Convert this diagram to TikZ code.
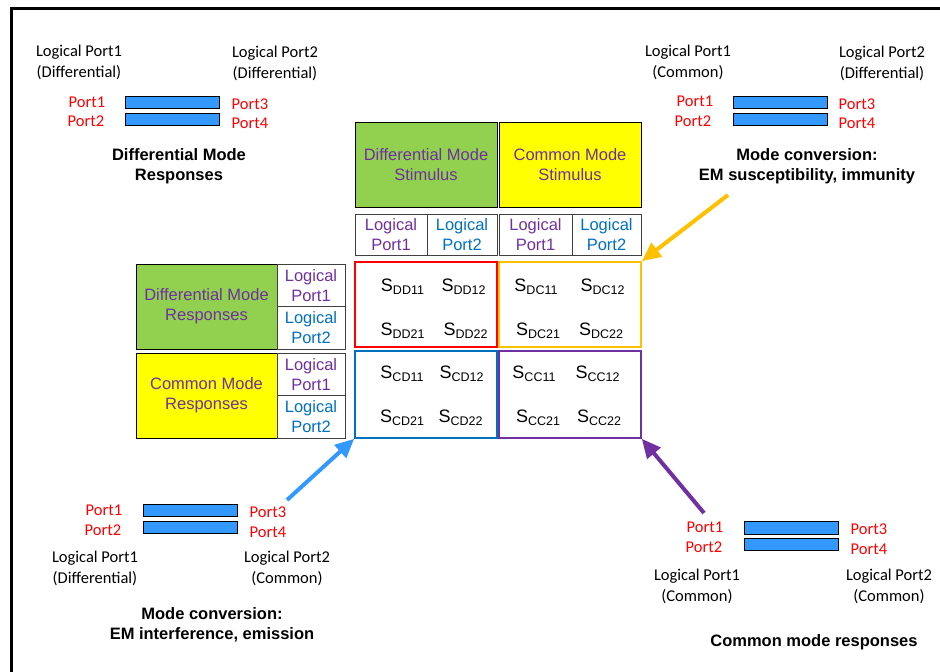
\documentclass[tikz,border=0pt]{standalone}
\usepackage{fontspec}
\setmainfont{Liberation Sans}
\newfontfamily\calfont{Carlito}
\usetikzlibrary{arrows.meta}

\definecolor{portred}{RGB}{255,0,0}
\definecolor{barblue}{RGB}{51,153,255}
\definecolor{modegreen}{RGB}{146,208,80}
\definecolor{modeyellow}{RGB}{255,255,0}
\definecolor{txtpurple}{RGB}{112,48,160}
\definecolor{txtblue}{RGB}{0,112,192}
\definecolor{boxorange}{RGB}{255,192,0}
\definecolor{cellgray}{RGB}{64,64,64}

\newcommand{\spar}[1]{{\fontsize{18}{18}\selectfont S}\raisebox{-3pt}{\fontsize{12.5}{12.5}\selectfont #1}}

\tikzset{
  calib/.style={font=\calfont\fontsize{16.5}{21}\selectfont, align=center, inner sep=0pt},
  portlbl/.style={calib, text=portred},
  heading/.style={font=\bfseries\fontsize{16.5}{20}\selectfont, align=center, inner sep=0pt},
  bar/.style={draw=black, fill=barblue, line width=0.8pt, minimum width=94pt, minimum height=12.5pt, inner sep=0pt},
  modebox/.style={draw=black, line width=1pt, minimum width=142pt, minimum height=85pt, inner sep=0pt,
    align=center, text=txtpurple, font=\fontsize{16.5}{20}\selectfont},
  cell/.style={draw=cellgray, line width=1pt, inner sep=0pt, align=center, font=\fontsize{16.5}{20}\selectfont},
  sbox/.style={line width=1.6pt, minimum width=142pt, inner sep=0pt},
  slabel/.style={anchor=base, inner sep=0pt},
  pointer/.style={line width=4pt, -{Triangle[length=19pt,width=17pt]}}
}

\begin{document}
\begin{tikzpicture}[x=1pt,y=-1pt]
\useasboundingbox (0,0) rectangle (940,672);

% cropped outer frame
\draw[line width=3pt] (11.5,672) -- (11.5,8.5) -- (940,8.5);

% ---------- stimulus headers ----------
\node[modebox, fill=modegreen] (stimD) at (426,164.5) {Differential Mode\\Stimulus};
\node[modebox, fill=modeyellow] (stimC) at (570,164.5) {Common Mode\\Stimulus};

\node[cell, minimum width=72pt, minimum height=41pt, text=txtpurple] (hD1) at (391,234.5) {Logical\\Port1};
\node[cell, minimum width=70pt, minimum height=41pt, text=txtblue]   (hD2) at (462,234.5) {Logical\\Port2};
\node[cell, minimum width=73pt, minimum height=41pt, text=txtpurple] (hC1) at (535.5,234.5) {Logical\\Port1};
\node[cell, minimum width=69pt, minimum height=41pt, text=txtblue]   (hC2) at (606.5,234.5) {Logical\\Port2};

% ---------- response headers ----------
\node[modebox, fill=modegreen, minimum width=141pt] (respD) at (206.5,306.5) {Differential Mode\\Responses};
\node[modebox, fill=modeyellow, minimum width=141pt] (respC) at (206.5,395.5) {Common Mode\\Responses};

\node[cell, minimum width=68pt, minimum height=42.5pt, text=txtpurple] (lD1) at (311,285.25) {Logical\\Port1};
\node[cell, minimum width=68pt, minimum height=42.5pt, text=txtblue]   (lD2) at (311,327.75) {Logical\\Port2};
\node[cell, minimum width=68pt, minimum height=42.5pt, text=txtpurple] (lC1) at (311,374.25) {Logical\\Port1};
\node[cell, minimum width=68pt, minimum height=42.5pt, text=txtblue]   (lC2) at (311,416.75) {Logical\\Port2};

% ---------- S-parameter quadrants ----------
\node[sbox, draw=portred, minimum height=85pt] (mDD) at (426,304.5) {};
\node[sbox, draw=boxorange, minimum height=85pt] (mDC) at (570,304.5) {};
\node[sbox, draw=txtblue, minimum height=87pt] (mCD) at (426,394.5) {};
\node[sbox, draw=txtpurple, minimum height=87pt] (mCC) at (570,394.5) {};

\node[slabel] (sdd11) at (402.5,291.5) {\spar{DD11}};
\node[slabel] (sdd12) at (463.5,291.5) {\spar{DD12}};
\node[slabel] (sdd21) at (402.5,335.5) {\spar{DD21}};
\node[slabel] (sdd22) at (465.5,335.5) {\spar{DD22}};

\node[slabel] (sdc11) at (536,291.5) {\spar{DC11}};
\node[slabel] (sdc12) at (602.5,291.5) {\spar{DC12}};
\node[slabel] (sdc21) at (538,335.5) {\spar{DC21}};
\node[slabel] (sdc22) at (601,335.5) {\spar{DC22}};

\node[slabel] (scd11) at (402,378) {\spar{CD11}};
\node[slabel] (scd12) at (461.5,378) {\spar{CD12}};
\node[slabel] (scd21) at (402,422) {\spar{CD21}};
\node[slabel] (scd22) at (460.5,422) {\spar{CD22}};

\node[slabel] (scc11) at (534,378) {\spar{CC11}};
\node[slabel] (scc12) at (597.5,378) {\spar{CC12}};
\node[slabel] (scc21) at (538,422) {\spar{CC21}};
\node[slabel] (scc22) at (599,422) {\spar{CC22}};

% ---------- top-left: differential / differential ----------
\node[calib] (tlL1) at (79,62.5) {Logical Port1\\(Differential)};
\node[calib] (tlL2) at (275,63.5) {Logical Port2\\(Differential)};
\node[portlbl] (tlP1) at (87,102) {Port1};
\node[portlbl] (tlP2) at (86,121) {Port2};
\node[bar] (tlB1) at (172,102.5) {};
\node[bar] (tlB2) at (172,119.5) {};
\node[portlbl] (tlP3) at (250,104) {Port3};
\node[portlbl] (tlP4) at (250,123) {Port4};
\node[heading] (tlT) at (179,166) {Differential Mode\\Responses};

% ---------- top-right: common / differential ----------
\node[calib] (trL1) at (688,62.5) {Logical Port1\\(Common)};
\node[calib] (trL2) at (882,63.5) {Logical Port2\\(Differential)};
\node[portlbl] (trP1) at (695,101) {Port1};
\node[portlbl] (trP2) at (693,121) {Port2};
\node[bar] (trB1) at (780,102.5) {};
\node[bar] (trB2) at (780,119.5) {};
\node[portlbl] (trP3) at (857,104) {Port3};
\node[portlbl] (trP4) at (857,123) {Port4};
\node[heading] (trT) at (807,166.5) {Mode conversion:\\EM susceptibility, immunity};

% ---------- bottom-left: differential / common ----------
\node[portlbl] (blP1) at (104,510) {Port1};
\node[portlbl] (blP2) at (103,530) {Port2};
\node[bar] (blB1) at (190,510.5) {};
\node[bar] (blB2) at (190,527.5) {};
\node[portlbl] (blP3) at (268,512) {Port3};
\node[portlbl] (blP4) at (268,532) {Port4};
\node[calib] (blL1) at (95,568) {Logical Port1\\(Differential)};
\node[calib] (blL2) at (287,568) {Logical Port2\\(Common)};
\node[heading] (blT) at (212,625) {Mode conversion:\\EM interference, emission};

% ---------- bottom-right: common / common ----------
\node[portlbl] (brP1) at (705,527) {Port1};
\node[portlbl] (brP2) at (704,547) {Port2};
\node[bar] (brB1) at (791,528) {};
\node[bar] (brB2) at (791,544.5) {};
\node[portlbl] (brP3) at (869,529) {Port3};
\node[portlbl] (brP4) at (869,549) {Port4};
\node[calib] (brL1) at (697,586) {Logical Port1\\(Common)};
\node[calib] (brL2) at (889,586) {Logical Port2\\(Common)};
\node[heading] (brT) at (814,642) {Common mode responses};

% ---------- pointers to the quadrants ----------
\coordinate (aDC) at (728,195);
\coordinate (aCD) at (287,500);
\coordinate (aCC) at (704,513);
\draw[pointer, boxorange] (aDC) -- (mDC.north east);
\draw[pointer, barblue] (aCD) -- (mCD.south west);
\draw[pointer, txtpurple] (aCC) -- (mCC.south east);
\end{tikzpicture}
\end{document}
